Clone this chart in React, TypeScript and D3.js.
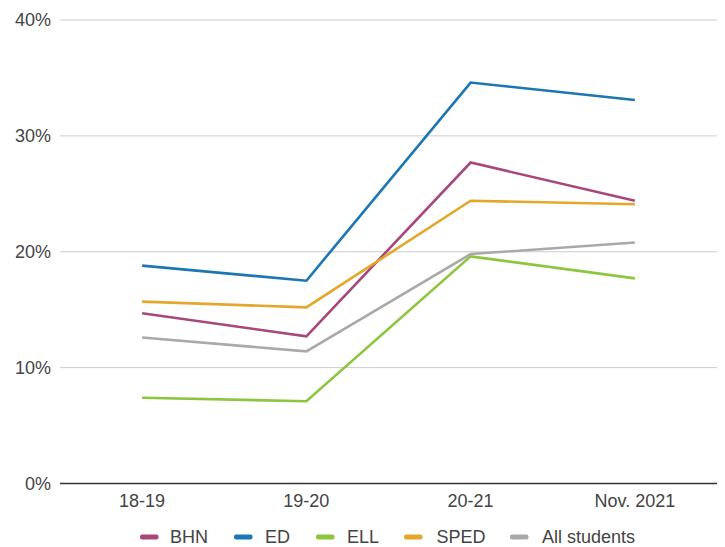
import React from "react";
import * as d3 from "d3";

const categories = ["18-19", "19-20", "20-21", "Nov. 2021"];
const seriesNames = ["BHN", "ED", "ELL", "SPED", "All students"];
const seriesColors = ["#a8477b", "#1b77b4", "#8cc63f", "#e3a82b", "#a9a9a9"];
const bhn = [14.7, 12.7, 27.7, 24.4];
const ed = [18.8, 17.5, 34.6, 33.1];
const ell = [7.4, 7.1, 19.6, 17.7];
const sped = [15.7, 15.2, 24.4, 24.1];
const allStudents = [12.6, 11.4, 19.8, 20.8];
const yTicks = [0, 10, 20, 30, 40];

const seriesValues = [bhn, ed, ell, sped, allStudents];

const W = 725;
const H = 547;
const left = 60;
const right = 717;
const top = 20;
const bottom = 483.5;

export default function App() {
  const x = d3.scalePoint<string>().domain(categories).range([left, right]).padding(0.5);
  const y = d3.scaleLinear().domain([0, 40]).range([bottom, top]);
  const line = d3
    .line<number>()
    .x((_, i) => x(categories[i]) as number)
    .y((d) => y(d));

  const legendItems = [
    { swatch: 140, text: 170 },
    { swatch: 234, text: 265 },
    { swatch: 316, text: 347 },
    { swatch: 404, text: 436.5 },
    { swatch: 510, text: 542 },
  ];

  const font = "'Liberation Sans', Arial, sans-serif";

  return (
    <svg
      width={W}
      height={H}
      style={{ position: "absolute", left: 0, top: 0, background: "#fff" }}
      fontFamily={font}
    >
      {yTicks.map((t) => (
        <g key={t}>
          <line
            x1={left}
            x2={right}
            y1={y(t)}
            y2={y(t)}
            stroke={t === 0 ? "#333" : "#cccccc"}
            strokeWidth={t === 0 ? 1.5 : 1}
          />
          <text
            x={51}
            y={y(t)}
            dy="0.35em"
            textAnchor="end"
            fontSize={18}
            fill="#444"
          >
            {t}%
          </text>
        </g>
      ))}
      {categories.map((c) => (
        <text
          key={c}
          x={x(c)}
          y={506.5}
          textAnchor="middle"
          fontSize={18}
          fill="#444"
        >
          {c}
        </text>
      ))}
      {seriesValues.map((vals, i) => (
        <path
          key={seriesNames[i]}
          d={line(vals) || ""}
          fill="none"
          stroke={seriesColors[i]}
          strokeWidth={2.6}
          strokeLinejoin="miter"
        />
      ))}
      {seriesNames.map((n, i) => (
        <g key={n}>
          <rect
            x={legendItems[i].swatch}
            y={534.5}
            width={18.5}
            height={5}
            rx={2}
            fill={seriesColors[i]}
          />
          <text
            x={legendItems[i].text}
            y={542.5}
            fontSize={18}
            fill="#444"
          >
            {n}
          </text>
        </g>
      ))}
    </svg>
  );
}
